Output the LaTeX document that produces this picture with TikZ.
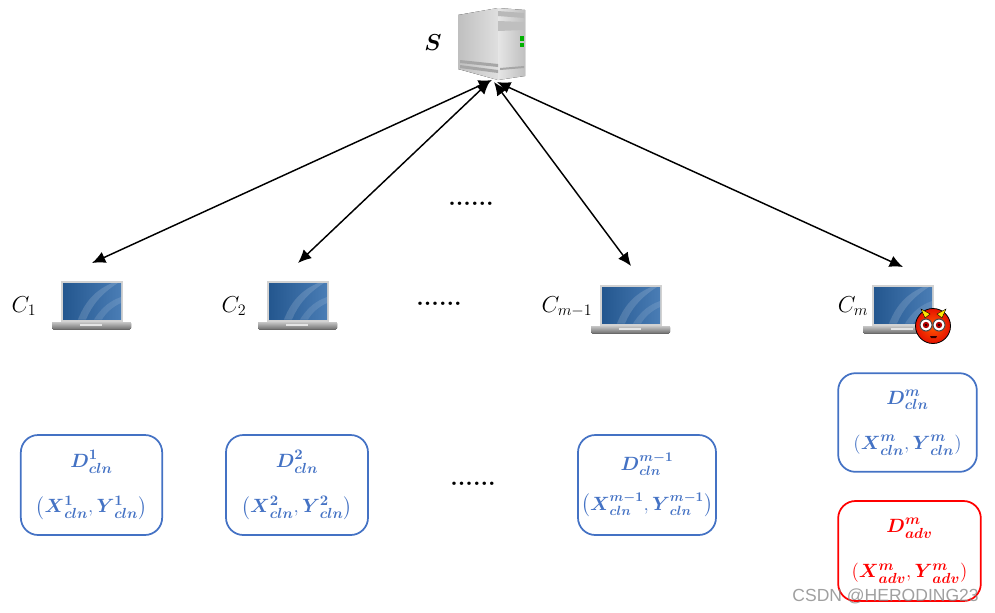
\documentclass[tikz,border=0pt]{standalone}
\usepackage{amsmath}
\usepackage{fontspec}
\usetikzlibrary{arrows.meta}
\newfontfamily\markfont{Liberation Sans}
\definecolor{clnblue}{HTML}{4472C4}
\definecolor{screenblue}{HTML}{2A66A8}
\newcommand{\dataLab}[2]{\boldsymbol{D}^{\boldsymbol{#1}}_{\boldsymbol{#2}}}
\newcommand{\pairLab}[2]{\left(\boldsymbol{X}^{\boldsymbol{#1}}_{\boldsymbol{#2}},\boldsymbol{Y}^{\boldsymbol{#1}}_{\boldsymbol{#2}}\right)}
\tikzset{
  laptop/.pic={
    % base
    \fill[top color=gray!45, bottom color=gray!85!black, rounded corners=1] (0,41) rectangle (79,48.5);
    \fill[gray!20] (28,43) rectangle (50,45);
    % screen
    \fill[gray!35] (9,0) rectangle (71,41);
    \fill[screenblue, left color=screenblue!85!black, right color=screenblue!85!white] (11,2) rectangle (69,38.5);
    \fill[white, opacity=.15] (26,38.5) .. controls (34,18) and (46,8) .. (60,2) -- (66,2) .. controls (50,12) and (40,24) .. (34,38.5) -- cycle;
    \fill[white, opacity=.12] (42,38.5) .. controls (50,26) and (58,20) .. (69,16) -- (69,22) .. controls (60,26) and (54,32) .. (50,38.5) -- cycle;
  },
}
\begin{document}
\begin{tikzpicture}[
    x=0.75pt, y=-0.75pt,
    every node/.style={align=center},
    dataBox/.style={draw, line width=1.3pt, rounded corners=13pt, inner sep=0pt, font=\fontsize{15}{17}\selectfont},
    cleanBox/.style={dataBox, draw=clnblue, text=clnblue},
    advBox/.style={dataBox, draw=red, text=red},
    clientLab/.style={font=\fontsize{18.5}{20}\selectfont},
    moreDots/.style={font=\bfseries\fontsize{18}{18}\selectfont, inner sep=0pt},
    link/.style={line width=1.1pt, {Latex[length=10pt,width=9pt]}-{Latex[length=10pt,width=9pt]}},
  ]
  \useasboundingbox (0,0) rectangle (995,612);

  % Server
  \fill[left color=gray!50, right color=gray!25] (458,15) -- (498,8) -- (498,80) -- (458,69) -- cycle;
  \fill[left color=gray!20, right color=gray!50] (498,8) -- (525,10) -- (525,76) -- (498,80) -- cycle;
  \fill[gray!55] (498,11) -- (524,13) -- (524,18) -- (498,16) -- cycle;
  \fill[gray!50] (498,21) -- (524,22) -- (524,30) -- (498,31) -- cycle;
  \fill[gray!70] (460,60) -- (498,64) -- (498,67) -- (460,63) -- cycle;
  \fill[gray!70] (460,65) -- (498,70) -- (498,73) -- (460,68) -- cycle;
  \fill[gray!70] (500,68) -- (524,66) -- (524,68) -- (500,70) -- cycle;
  \fill[green!70!black] (520,36) rectangle (524,41);
  \fill[green!70!black] (520,43) rectangle (524,47);
  \node[font=\fontsize{16}{18}\selectfont, inner sep=0pt] (server) at (433,43) {$\boldsymbol{S}$};

  % Clients
  \foreach \px/\py in {52/281, 258/281, 591/285, 863/285} {
    \pic at (\px,\py) {laptop};
  }
  \node[clientLab] (cOne) at (24,306) {$C_1$};
  \node[clientLab] (cTwo) at (234,306) {$C_2$};
  \node[clientLab] (cThree) at (567,307) {$C_{m-1}$};
  \node[clientLab] (cFour) at (853,306) {$C_m$};

  % Devil
  \shade[draw=black, line width=.6pt, inner color=orange!70!red, outer color=red!85!orange!90!black] (933,326) circle (17.5);
  \fill[yellow!90!orange, draw=black, line width=.3pt] (921,309) -- (930,314) -- (925,318) -- cycle;
  \fill[yellow!90!orange, draw=black, line width=.3pt] (946,309) -- (937,314) -- (942,318) -- cycle;
  \foreach \ex in {926,939} {
    \fill[white, draw=black!70, line width=.8pt] (\ex,325) circle (6);
    \fill[red!70!black] (\ex,325) circle (3.2);
    \fill[black] (\ex,325) circle (1.2);
  }
  \fill[black!80!red] (930,336) -- (937,336) -- (936,338) -- (931,338) -- cycle;

  % Links
  \coordinate (hubA) at (492,80);
  \coordinate (hubB) at (490,81);
  \coordinate (hubC) at (494,82);
  \coordinate (hubD) at (497,82);
  \coordinate (endA) at (92,263);
  \coordinate (endB) at (298,263);
  \coordinate (endC) at (631,266);
  \coordinate (endD) at (903,267);
  \draw[link] (hubA) -- (endA);
  \draw[link] (hubB) -- (endB);
  \draw[link] (hubC) -- (endC);
  \draw[link] (hubD) -- (endD);

  % Dots
  \node[moreDots] (dotsTop) at (471,204) {......};
  \node[moreDots] (dotsMid) at (439,304) {......};
  \node[moreDots] (dotsLow) at (473,484) {......};

  % Data boxes
  \node[cleanBox, minimum width=106pt, minimum height=75pt] (boxOne) at (91.5,485) {$\dataLab{1}{cln}$\\[17pt]$\pairLab{1}{cln}$};
  \node[cleanBox, minimum width=106.5pt, minimum height=75pt] (boxTwo) at (297,485) {$\dataLab{2}{cln}$\\[17pt]$\pairLab{2}{cln}$};
  \node[cleanBox, minimum width=103.5pt, minimum height=75pt, font=\fontsize{14}{16}\selectfont] (boxThree) at (647,485) {$\dataLab{m-1}{cln}$\\[12pt]$\pairLab{m-1}{cln}$};
  \node[cleanBox, minimum width=104pt, minimum height=74pt] (boxFour) at (907.5,422.5) {$\dataLab{m}{cln}$\\[17pt]$\pairLab{m}{cln}$};
  \node[advBox, minimum width=107pt, minimum height=75pt] (boxFive) at (909.5,551) {$\dataLab{m}{adv}$\\[17pt]$\pairLab{m}{adv}$};

  % Mark
  \node[font=\markfont\fontsize{13.15}{15}\selectfont, text=gray, opacity=.75, inner sep=0pt, anchor=east] (mark) at (979,596) {CSDN @HERODING23};
\end{tikzpicture}
\end{document}
